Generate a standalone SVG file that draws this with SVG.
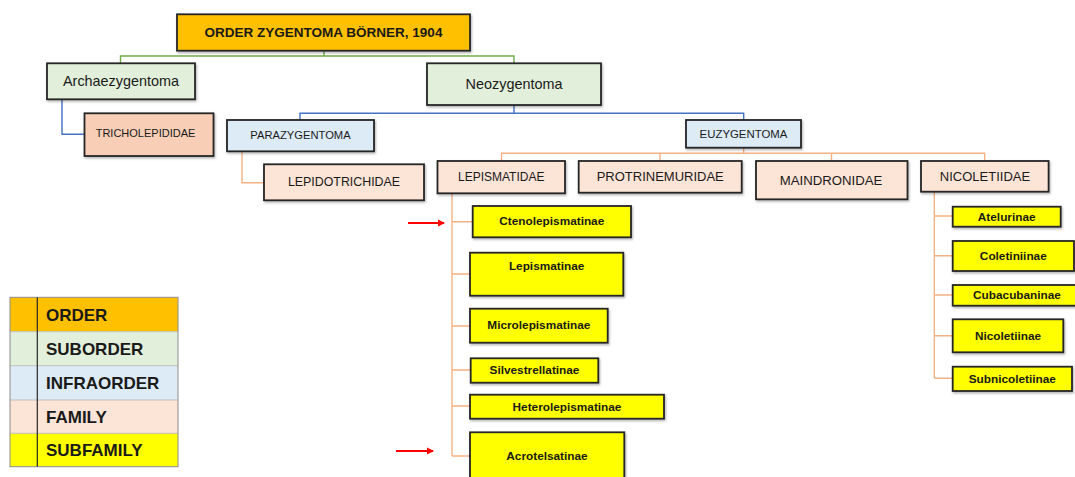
<svg xmlns="http://www.w3.org/2000/svg" width="1075" height="477" viewBox="0 0 1075 477">
<defs>
<filter id="sh" x="-10%" y="-10%" width="130%" height="150%"><feDropShadow dx="1" dy="1.5" stdDeviation="0.8" flood-color="#000" flood-opacity="0.3"/></filter>
<marker id="ah" markerWidth="8" markerHeight="8" refX="6" refY="4" orient="auto" markerUnits="userSpaceOnUse"><path d="M0,0.5 L7,4 L0,7.5 Z" fill="#FF0000"/></marker>
</defs>
<style>
.box{stroke:#262626;stroke-width:1.8;filter:url(#sh)}
.ord{fill:#FFC000}.sub{fill:#E2EFDA}.inf{fill:#DDEBF7}.fam{fill:#FCE4D6}.fam2{fill:#F8CFB6}.sf{fill:#FFFF00}
text{font-family:"Liberation Sans",Arial,sans-serif;fill:#1a1a1a;text-anchor:middle;dominant-baseline:central}
.b{font-weight:bold}
.sft{font-weight:bold;font-size:11.8px}
.g{stroke:#70AD47;stroke-width:1.4;fill:none}
.bl{stroke:#4472C4;stroke-width:1.4;fill:none}
.o{stroke:#F4B183;stroke-width:1.4;fill:none}
.lg{font-weight:bold;font-size:17px;text-anchor:start}
</style>
<g id="connectors">
<path class="g" d="M324,50.7 V56 M120.5,63.3 V56 H514 V63.3"/>
<path class="bl" d="M62,99.3 V134.3 H84.5"/>
<path class="bl" d="M514,105 V113.3 M300,120 V113.3 H743.7 V120"/>
<path class="o" d="M242,151.3 V182.7 H264"/>
<path class="o" d="M743.7,147.7 V153.3 M501.5,161 V153.3 H984.7 V161 M660,153.3 V161 M831.5,153.3 V161"/>
<path class="o" d="M452,193.3 V456 M452,221.7 H472.7 M452,274 H470 M452,326 H470 M452,370 H470.7 M452,406 H470 M452,456 H470"/>
<path class="o" d="M934.3,191.7 V378.3 M934.3,216 H952.7 M934.3,255.7 H952.7 M934.3,295 H952.7 M934.3,335.7 H952.7 M934.3,378.3 H952.7"/>
<line x1="408" y1="223" x2="444" y2="223" stroke="#FF0000" stroke-width="2" marker-end="url(#ah)"/>
<line x1="396" y1="451" x2="433" y2="451" stroke="#FF0000" stroke-width="2" marker-end="url(#ah)"/>
</g>
<g id="n-order"><rect class="box ord" x="177" y="14.3" width="293" height="36.4"/><text class="b" x="323.5" y="32.5" font-size="13.5">ORDER ZYGENTOMA BÖRNER, 1904</text></g>
<g id="n-archaezygentoma"><rect class="box sub" x="47" y="63.3" width="148" height="36"/><text x="121" y="81" font-size="14.4">Archaezygentoma</text></g>
<g id="n-neozygentoma"><rect class="box sub" x="427" y="63.3" width="174" height="41.7"/><text x="514" y="84" font-size="14.4">Neozygentoma</text></g>
<g id="n-tricholepididae"><rect class="box fam2" x="84.5" y="113.3" width="129" height="42.7"/><text x="145.5" y="133.3" font-size="11">TRICHOLEPIDIDAE</text></g>
<g id="n-parazygentoma"><rect class="box inf" x="227" y="120" width="147" height="31.3"/><text x="300.5" y="134.7" font-size="11.2">PARAZYGENTOMA</text></g>
<g id="n-euzygentoma"><rect class="box inf" x="686" y="120" width="115" height="27.7"/><text x="743.5" y="133.5" font-size="11.4">EUZYGENTOMA</text></g>
<g id="n-lepidotrichidae"><rect class="box fam" x="264" y="164.3" width="160" height="36"/><text x="344" y="182" font-size="12.4">LEPIDOTRICHIDAE</text></g>
<g id="n-lepismatidae"><rect class="box fam" x="437.5" y="161" width="127.5" height="32.3"/><text x="501.2" y="177.3" font-size="12">LEPISMATIDAE</text></g>
<g id="n-protrinemuridae"><rect class="box fam" x="578.7" y="161" width="163" height="31.7"/><text x="660.2" y="176.7" font-size="13">PROTRINEMURIDAE</text></g>
<g id="n-maindronidae"><rect class="box fam" x="756" y="161" width="151.5" height="38.3"/><text x="831" y="180" font-size="13.2">MAINDRONIDAE</text></g>
<g id="n-nicoletiidae"><rect class="box fam" x="921" y="161" width="127.6" height="30.7"/><text x="985" y="176.7" font-size="13">NICOLETIIDAE</text></g>
<g id="n-ctenolepismatinae"><rect class="box sf" x="472.7" y="206" width="158.3" height="31.3"/><text class="sft" x="551.8" y="221.3">Ctenolepismatinae</text></g>
<g id="n-lepismatinae"><rect class="box sf" x="470" y="252.7" width="153.3" height="43"/><text class="sft" x="546.6" y="266">Lepismatinae</text></g>
<g id="n-microlepismatinae"><rect class="box sf" x="470" y="308.7" width="137.7" height="34"/><text class="sft" x="538.8" y="325.3">Microlepismatinae</text></g>
<g id="n-silvestrellatinae"><rect class="box sf" x="470.7" y="358.3" width="127.6" height="24.4"/><text class="sft" x="534.5" y="370.3">Silvestrellatinae</text></g>
<g id="n-heterolepismatinae"><rect class="box sf" x="470" y="394.7" width="194" height="24"/><text class="sft" x="567" y="406.5">Heterolepismatinae</text></g>
<g id="n-acrotelsatinae"><rect class="box sf" x="470" y="432.3" width="154.3" height="48"/><text class="sft" x="547" y="456">Acrotelsatinae</text></g>
<g id="n-atelurinae"><rect class="box sf" x="952.7" y="206.7" width="108" height="20"/><text class="sft" x="1006.7" y="216.5">Atelurinae</text></g>
<g id="n-coletiniinae"><rect class="box sf" x="952.7" y="241" width="121.3" height="30"/><text class="sft" x="1013.3" y="255.7">Coletiniinae</text></g>
<g id="n-cubacubaninae"><rect class="box sf" x="952.7" y="285" width="129" height="20.7"/><text class="sft" x="1017" y="295.3">Cubacubaninae</text></g>
<g id="n-nicoletiinae"><rect class="box sf" x="952.7" y="319.3" width="110.6" height="33"/><text class="sft" x="1008" y="335.7">Nicoletiinae</text></g>
<g id="n-subnicoletiinae"><rect class="box sf" x="952.7" y="366.7" width="119.3" height="24.3"/><text class="sft" x="1012.3" y="378.5">Subnicoletiinae</text></g>
<g id="legend">
<rect x="10" y="297.3" width="168" height="34.4" fill="#FFC000"/>
<rect x="10" y="331.7" width="168" height="34" fill="#E2EFDA"/>
<rect x="10" y="365.7" width="168" height="34.3" fill="#DDEBF7"/>
<rect x="10" y="400" width="168" height="33.3" fill="#FCE4D6"/>
<rect x="10" y="433.3" width="168" height="33.4" fill="#FFFF00"/>
<path d="M10,331.7 H178 M10,365.7 H178 M10,400 H178 M10,433.3 H178" stroke="#BFBFBF" stroke-width="1"/>
<rect x="10" y="297.3" width="168" height="169.4" fill="none" stroke="#8C8C8C" stroke-width="1"/>
<line x1="37.3" y1="297.3" x2="37.3" y2="466.7" stroke="#262626" stroke-width="1.2"/>
<text class="lg" x="46" y="315">ORDER</text>
<text class="lg" x="46" y="349">SUBORDER</text>
<text class="lg" x="46" y="383">INFRAORDER</text>
<text class="lg" x="46" y="417">FAMILY</text>
<text class="lg" x="46" y="450.5">SUBFAMILY</text>
</g>
</svg>
